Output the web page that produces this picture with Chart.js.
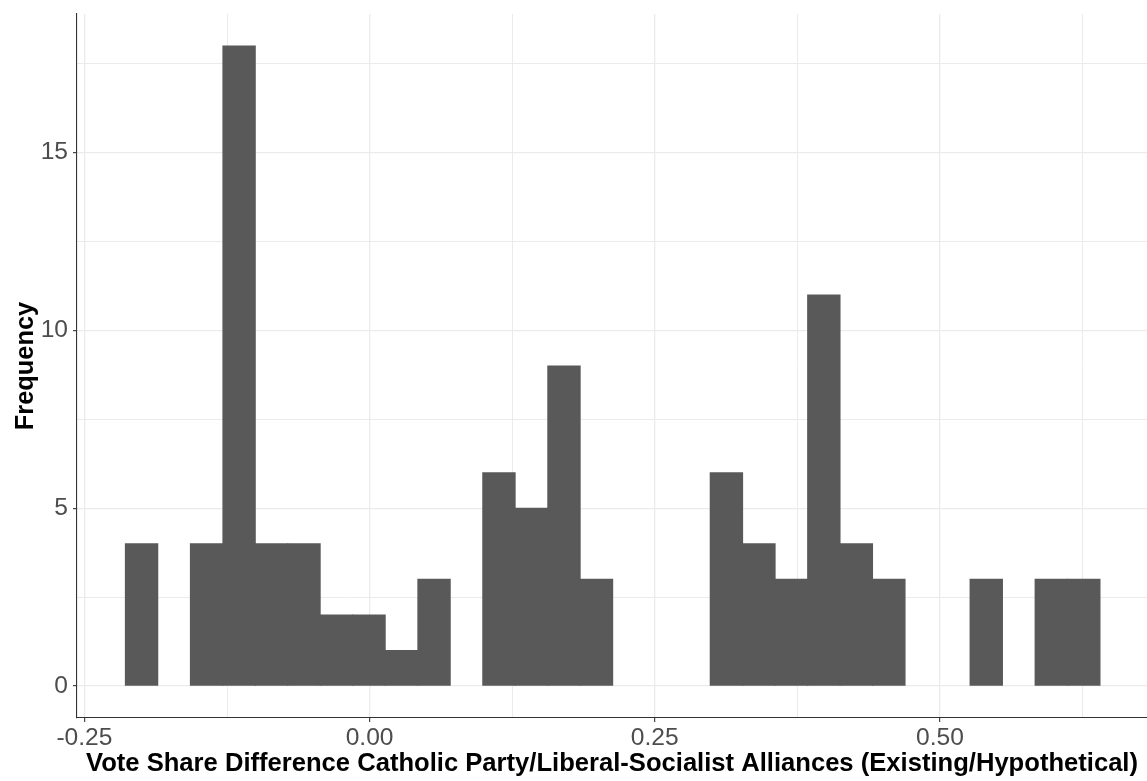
<!DOCTYPE html>
<html>
<head>
<meta charset="utf-8">
<script src="https://cdn.jsdelivr.net/npm/chart.js@4/dist/chart.umd.min.js"></script>
<style>
  html, body { margin: 0; padding: 0; background: #ffffff; }
  #wrap { width: 1147px; height: 781px; position: relative; }
</style>
</head>
<body>
<div id="wrap"><canvas id="c"></canvas></div>
<script>
// Bin centers (vote share difference)
const binCenters = [-0.1999, -0.1714, -0.1429, -0.1144, -0.0859, -0.0575, -0.0290, -0.0005,
  0.0280, 0.0565, 0.0850, 0.1134, 0.1419, 0.1704, 0.1989, 0.2274, 0.2558, 0.2843,
  0.3128, 0.3413, 0.3698, 0.3982, 0.4267, 0.4552, 0.4837, 0.5122, 0.5406, 0.5691,
  0.5976, 0.6261];
// Frequencies per bin
const counts = [4, 0, 4, 18, 4, 4, 2, 2, 1, 3, 0, 6, 5, 9, 3, 0, 0, 0,
  6, 4, 3, 11, 4, 3, 0, 0, 3, 0, 3, 3];
// Tick values (major and minor grid positions)
const xTicks = [-0.25, -0.125, 0, 0.125, 0.25, 0.375, 0.5, 0.625];
const yTicks = [0, 2.5, 5, 7.5, 10, 12.5, 15, 17.5];
const xTitle = 'Vote Share Difference Catholic Party/Liberal-Socialist Alliances (Existing/Hypothetical)';
const yTitle = 'Frequency';

const FONT = '"Liberation Sans", Arial, Helvetica, sans-serif';
const isMajorX = v => Math.abs(v * 4 - Math.round(v * 4)) < 1e-9;
const isMajorY = v => Math.abs(v / 5 - Math.round(v / 5)) < 1e-9;

const points = binCenters.map((x, i) => ({ x: x, y: counts[i] }));

new Chart(document.getElementById('c'), {
  type: 'bar',
  data: {
    datasets: [{
      data: points,
      backgroundColor: ctx => (ctx.raw && ctx.raw.y === 0) ? 'rgba(0,0,0,0)' : '#595959',
      inflateAmount: ctx => (ctx.raw && ctx.raw.y === 0) ? 0 : 0.5,
      borderWidth: 0,
      barPercentage: 1,
      categoryPercentage: 1
    }]
  },
  options: {
    responsive: true,
    maintainAspectRatio: false,
    animation: false,
    layout: { padding: { top: 14, right: 0, left: 0, bottom: 0 } },
    plugins: { legend: { display: false }, tooltip: { enabled: false } },
    scales: {
      x: {
        type: 'linear',
        min: -0.2565,
        max: 0.6815,
        offset: false,
        afterBuildTicks: s => { s.ticks = xTicks.map(v => ({ value: v })); },
        afterFit: s => { s.height = 63; s.paddingLeft = 0; s.paddingRight = 0; },
        grid: {
          offset: false,
          color: c => '#EBEBEB',
          lineWidth: c => (c.tick && isMajorX(c.tick.value)) ? 1.3 : 1.0,
          drawTicks: true,
          tickLength: 4,
          tickColor: c => (c.tick && isMajorX(c.tick.value)) ? '#333333' : 'rgba(0,0,0,0)',
          tickWidth: 1.1
        },
        border: { display: true, color: '#333333', width: 1.1 },
        ticks: {
          autoSkip: false,
          maxRotation: 0,
          padding: 1,
          color: '#4D4D4D',
          font: { family: FONT, size: 24.6 },
          callback: v => isMajorX(v) ? v.toFixed(2) : ''
        },
        title: {
          display: true,
          text: xTitle,
          color: '#000000',
          font: { family: FONT, size: 25.6, weight: 'bold', lineHeight: 1.2 },
          padding: { top: 0, bottom: 2 }
        }
      },
      y: {
        type: 'linear',
        min: -0.9,
        max: 18.9,
        afterBuildTicks: s => { s.ticks = yTicks.map(v => ({ value: v })); },
        afterFit: s => { s.width = 77; s.paddingTop = 0; s.paddingBottom = 0; },
        grid: {
          color: c => '#EBEBEB',
          lineWidth: c => (c.tick && isMajorY(c.tick.value)) ? 1.3 : 1.0,
          drawTicks: true,
          tickLength: 4,
          tickColor: c => (c.tick && isMajorY(c.tick.value)) ? '#333333' : 'rgba(0,0,0,0)',
          tickWidth: 1.1
        },
        border: { display: true, color: '#333333', width: 1.1 },
        ticks: {
          autoSkip: false,
          padding: 5,
          color: '#4D4D4D',
          font: { family: FONT, size: 24.6 },
          callback: v => isMajorY(v) ? String(v) : ''
        },
        title: {
          display: true,
          text: yTitle,
          color: '#000000',
          font: { family: FONT, size: 25.4, weight: 'bold', lineHeight: 1.2 },
          padding: { top: 10.8, bottom: 0 }
        }
      }
    }
  }
});
</script>
</body>
</html>
